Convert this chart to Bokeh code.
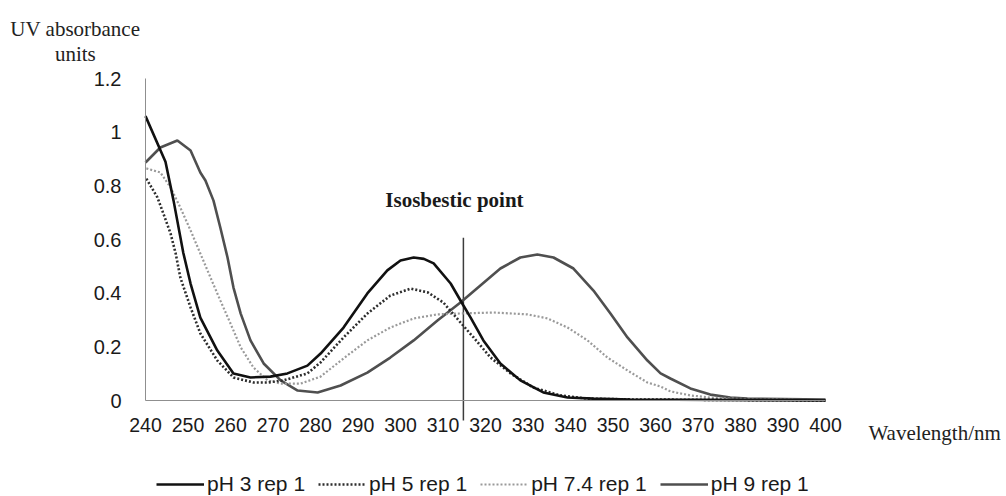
from bokeh.plotting import figure
from bokeh.models import FixedTicker, Legend, LegendItem, Label
from bokeh.embed import file_html
from bokeh.resources import INLINE

# ---- data ----
wl_ph3 = [240.0, 244.7, 246.6, 248.9, 250.6, 252.9, 256.9, 260.7, 264.7, 269.4, 273.4, 278.1,
          281.2, 286.6, 292.2, 296.9, 300.0, 303.1, 305.5, 307.8, 311.8, 314.8, 316.5, 319.5,
          323.5, 328.2, 333.6, 339.3, 345.4, 354.1, 400.0]
abs_ph3 = [1.06, 0.89, 0.745, 0.55, 0.436, 0.309, 0.186, 0.101, 0.086, 0.089, 0.101, 0.130,
           0.175, 0.272, 0.399, 0.485, 0.522, 0.533, 0.528, 0.511, 0.436, 0.354, 0.309, 0.224,
           0.138, 0.075, 0.030, 0.011, 0.007, 0.004, 0.0]

wl_ph5 = [240.2, 242.8, 244.2, 245.9, 247.1, 248.2, 250.6, 252.9, 256.9, 260.7, 265.4, 268.7,
          272.5, 278.1, 281.2, 286.6, 292.2, 297.6, 302.4, 306.4, 310.1, 314.1, 317.2, 321.2,
          325.9, 331.3, 337.6, 344.0, 354.1, 400.0]
abs_ph5 = [0.827, 0.757, 0.697, 0.622, 0.548, 0.458, 0.347, 0.250, 0.149, 0.086, 0.067, 0.067,
           0.075, 0.101, 0.142, 0.235, 0.324, 0.391, 0.417, 0.403, 0.365, 0.291, 0.235, 0.160,
           0.101, 0.048, 0.019, 0.007, 0.004, 0.0]

wl_ph74 = [240.2, 243.5, 245.9, 248.2, 250.6, 252.9, 255.3, 257.6, 260.0, 262.4, 265.4, 268.7,
           271.8, 276.5, 281.2, 286.6, 292.2, 297.6, 303.1, 308.7, 313.4, 321.9, 329.9, 334.6,
           339.3, 344.0, 348.7, 353.4, 358.1, 361.2, 363.5, 368.2, 372.9, 377.6, 384.7, 400.0]
abs_ph74 = [0.865, 0.850, 0.794, 0.719, 0.634, 0.548, 0.458, 0.373, 0.287, 0.198, 0.123, 0.075,
            0.063, 0.063, 0.089, 0.157, 0.224, 0.272, 0.306, 0.321, 0.324, 0.328, 0.321, 0.306,
            0.272, 0.224, 0.160, 0.112, 0.067, 0.052, 0.034, 0.019, 0.011, 0.007, 0.004, 0.0]

wl_ph9 = [240.0, 243.5, 247.5, 250.6, 252.9, 254.1, 256.0, 257.6, 259.3, 260.7, 262.4, 264.7,
          267.8, 271.8, 275.8, 280.5, 285.9, 292.2, 297.6, 303.1, 308.7, 314.1, 318.8, 323.5,
          328.2, 332.2, 336.0, 340.7, 345.4, 349.4, 353.4, 358.1, 361.2, 363.5, 368.2, 372.9,
          377.6, 381.6, 400.0]
abs_ph9 = [0.887, 0.943, 0.969, 0.932, 0.850, 0.820, 0.745, 0.645, 0.533, 0.421, 0.324, 0.224,
           0.138, 0.075, 0.037, 0.030, 0.056, 0.104, 0.160, 0.224, 0.298, 0.365, 0.429, 0.492,
           0.533, 0.544, 0.533, 0.492, 0.410, 0.324, 0.235, 0.149, 0.101, 0.082, 0.045, 0.022,
           0.011, 0.007, 0.004]

series_names = ["pH 3 rep 1", "pH 5 rep 1", "pH 7.4 rep 1", "pH 9 rep 1"]
isosbestic_nm = 314.8

x_ticks = [240, 250, 260, 270, 280, 290, 300, 310, 320, 330, 340, 350, 360, 370, 380, 390, 400]
x_tick_labels = ["240", "250", "260", "270", "280", "290", "300", "310", "320", "330", "340",
                 "350", "360", "370", "380", "390", "400"]
y_ticks = [0, 0.2, 0.4, 0.6, 0.8, 1.0, 1.2]
y_tick_labels = ["0", "0.2", "0.4", "0.6", "0.8", "1", "1.2"]

SANS = "Liberation Sans"
SERIF = "Liberation Serif"
AXIS_GREY = "#8f8f8f"

# the frame covers the whole canvas; axes are drawn at fixed data locations
p = figure(width=1006, height=496, x_range=(205.882, 442.588), y_range=(-0.3578, 1.4909),
           output_backend="svg", toolbar_location=None,
           min_border_left=0, min_border_right=0, min_border_top=0, min_border_bottom=0)
p.outline_line_color = None
p.grid.visible = False
p.background_fill_color = "white"
p.border_fill_color = "white"

# y axis
yax = p.yaxis[0]
yax.fixed_location = 240
yax.ticker = FixedTicker(ticks=y_ticks)
yax.major_label_overrides = dict(zip(y_ticks, y_tick_labels))
yax.bounds = (0, 1.2)
yax.axis_line_color = AXIS_GREY
yax.major_tick_line_color = None
yax.minor_tick_line_color = None
yax.major_label_standoff = 18
yax.major_label_text_font = SANS
yax.major_label_text_font_size = "20px"
yax.major_label_text_color = "#1a1a1a"

# x axis
xax = p.xaxis[0]
xax.fixed_location = 0
xax.ticker = FixedTicker(ticks=x_ticks)
xax.major_label_overrides = dict(zip(x_ticks, x_tick_labels))
xax.bounds = (240, 400)
xax.axis_line_color = AXIS_GREY
xax.major_tick_line_color = None
xax.minor_tick_line_color = None
xax.major_label_standoff = 11
xax.major_label_text_font = SANS
xax.major_label_text_font_size = "19.5px"
xax.major_label_text_color = "#1a1a1a"

# isosbestic marker line
p.segment(x0=[isosbestic_nm], y0=[-0.0745], x1=[isosbestic_nm], y1=[0.607],
          line_color="#3c3c3c", line_width=1.5)

r9 = p.line(wl_ph9, abs_ph9, line_color="#4f4f4f", line_width=2.6)
r74 = p.line(wl_ph74, abs_ph74, line_color="#9a9a9a", line_width=2.2, line_dash="2 2")
r5 = p.line(wl_ph5, abs_ph5, line_color="#2e2e2e", line_width=2.6, line_dash="2 2")
r3 = p.line(wl_ph3, abs_ph3, line_color="#111111", line_width=2.6)

legend = Legend(items=[LegendItem(label=series_names[0], renderers=[r3]),
                       LegendItem(label=series_names[1], renderers=[r5]),
                       LegendItem(label=series_names[2], renderers=[r74]),
                       LegendItem(label=series_names[3], renderers=[r9])],
                orientation="horizontal", location=(156, 0),
                glyph_width=48, glyph_height=20, label_standoff=3, spacing=13,
                padding=0, margin=0, border_line_color=None, background_fill_alpha=0,
                label_text_font=SANS, label_text_font_size="21px", label_text_color="#1a1a1a",
                label_height=20)
p.add_layout(legend, "center")

# texts
p.add_layout(Label(x=223.5, y=1.3865, text="UV absorbance", text_align="center",
                   text_baseline="alphabetic", text_font=SERIF, text_font_size="21px",
                   text_color="#222222"))
p.add_layout(Label(x=223.5, y=1.293, text="units", text_align="center",
                   text_baseline="alphabetic", text_font=SERIF, text_font_size="21px",
                   text_color="#222222"))
p.add_layout(Label(x=312.7, y=0.749, text="Isosbestic point", text_align="center",
                   text_baseline="alphabetic", text_font=SERIF, text_font_size="21px",
                   text_font_style="bold", text_color="#1a1a1a"))
p.add_layout(Label(x=410.1, y=-0.1193, text="Wavelength/nm", text_align="left",
                   text_baseline="alphabetic", text_font=SERIF, text_font_size="21px",
                   text_color="#222222"))

open("out.html", "w").write(file_html(p, INLINE))
